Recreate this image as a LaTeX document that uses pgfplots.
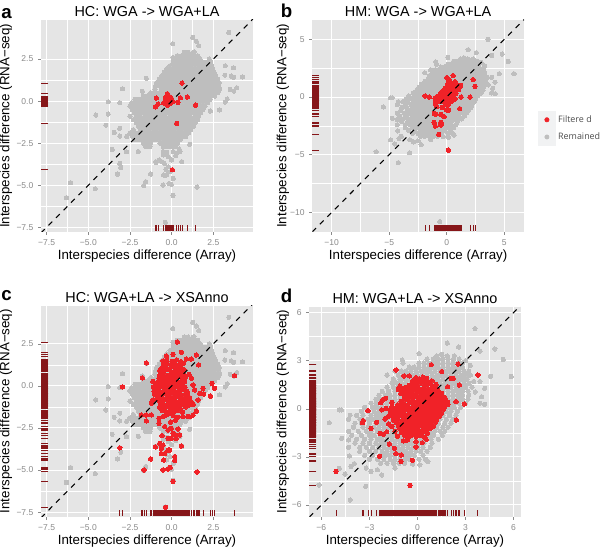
\documentclass[border=0pt]{standalone}
\usepackage{fontspec}
\setmainfont{Liberation Sans}
\newfontfamily\keyfont{Open Sans}
\usepackage{pgfplots}
\usepackage{pgfplotstable}
\pgfplotsset{compat=1.18}
\definecolor{panelbg}{HTML}{E5E5E5}
\definecolor{dotgray}{HTML}{BEBEBE}
\definecolor{dotred}{HTML}{F02228}
\definecolor{rugred}{HTML}{861619}
\definecolor{ticktext}{HTML}{8A8A8A}
\definecolor{keybg}{HTML}{F1F2F3}

% gray genes, HC panels (a, c)
\pgfplotstableread[row sep=\\]{
x y\\
3.43 4.08\\ 1.26 3.78\\ 0.06 3.41\\ 1.48 3.56\\ 1.62 3.29\\ 1.34 2.93\\ 0.78 2.89\\ 0.08 2.59\\ 3.21 2.1\\ 3.71 1.98\\ 3.19 1.54\\ 3.57 1.49\\ 3.71 1.41\\ 4.25 1.43\\ 3.51 0.69\\ 3.91 0.79\\ 3.73 0.59\\ 3.33 0.12\\ 3.21 -0.06\\ 2.87 -0.53\\ 2.32 -0.59\\
-2.95 0.73\\ -1.52 1.35\\ -1.76 0.59\\ -3.81 -0.04\\ -3.11 -0.1\\ -3.81 -0.77\\ -4.55 -0.83\\ -3.95 -1.43\\ -3.45 -1.86\\ -3.11 -1.62\\ -3.11 -2.08\\ -3.57 -2.87\\ -2.71 -3.01\\ -3.11 -3.7\\ -3.05 -3.94\\ -3.25 -4.34\\ -6.07 -4.85\\ -6.31 -5.74\\ -4.59 -5.21\\ -1.56 -4.79\\ -1.68 -5.03\\ -1.26 -4.34\\ -0.94 -3.64\\ -0.48 -4.4\\ -0.32 -4.4\\ -0.52 -4.99\\ -0.16 -4.9\\ -0.02 -4.95\\ 0.08 -5.6\\ 1.52 -5.11\\ -0.38 -7.2\\ 1.08 -2.57\\ -2.0 -3.0\\ -0.1 -4.2\\ 0.1 -4.6\\
-0.5 -3.0\\ -0.3 -3.05\\ 0.1 -3.0\\ 0.3 -3.1\\ 0.45 -2.85\\ -0.5 -3.2\\ -0.2 -3.3\\ 0.0 -3.5\\ -0.75 -3.5\\ -0.45 -3.7\\ -0.6 -3.6\\ 0.25 -3.25\\ 0.5 -3.0\\ -0.2 -3.9\\ -0.35 -4.05\\ 0.6 -3.6\\ -0.95 -3.6\\
0.75 2.9\\ 1.0 2.9\\ 1.3 2.88\\
0.35 2.7\\ 0.6 2.7\\ 0.85 2.7\\ 1.1 2.7\\ 1.35 2.7\\ 1.55 2.7\\
0.2 2.5\\ 0.45 2.5\\ 0.7 2.5\\ 0.95 2.5\\ 1.2 2.5\\ 1.45 2.5\\ 1.7 2.5\\ 2.25 2.5\\
0.1 2.3\\ 0.35 2.3\\ 0.6 2.3\\ 0.85 2.3\\ 1.1 2.3\\ 1.35 2.3\\ 1.6 2.3\\ 1.85 2.3\\ 2.1 2.3\\ 2.35 2.3\\
-0.1 2.1\\ 0.15 2.1\\ 0.4 2.1\\ 0.65 2.1\\ 0.9 2.1\\ 1.15 2.1\\ 1.4 2.1\\ 1.65 2.1\\ 1.9 2.1\\ 2.15 2.1\\ 2.4 2.1\\
-0.3 1.9\\ -0.05 1.9\\ 0.2 1.9\\ 0.45 1.9\\ 0.7 1.9\\ 0.95 1.9\\ 1.2 1.9\\ 1.45 1.9\\ 1.7 1.9\\ 1.95 1.9\\ 2.2 1.9\\ 2.45 1.9\\
-0.45 1.7\\ -0.2 1.7\\ 0.05 1.7\\ 0.3 1.7\\ 0.55 1.7\\ 0.8 1.7\\ 1.05 1.7\\ 1.3 1.7\\ 1.55 1.7\\ 1.8 1.7\\ 2.05 1.7\\ 2.3 1.7\\ 2.55 1.7\\
-0.6 1.5\\ -0.35 1.5\\ -0.1 1.5\\ 0.15 1.5\\ 0.4 1.5\\ 0.65 1.5\\ 0.9 1.5\\ 1.15 1.5\\ 1.4 1.5\\ 1.65 1.5\\ 1.9 1.5\\ 2.15 1.5\\ 2.4 1.5\\ 2.65 1.5\\
-0.75 1.3\\ -0.5 1.3\\ -0.25 1.3\\ 0.0 1.3\\ 0.25 1.3\\ 0.5 1.3\\ 0.75 1.3\\ 1.0 1.3\\ 1.25 1.3\\ 1.5 1.3\\ 1.75 1.3\\ 2.0 1.3\\ 2.25 1.3\\ 2.5 1.3\\ 2.75 1.3\\
-0.9 1.1\\ -0.62 1.1\\ -0.38 1.1\\ -0.12 1.1\\ 0.12 1.1\\ 0.38 1.1\\ 0.62 1.1\\ 0.88 1.1\\ 1.12 1.1\\ 1.38 1.1\\ 1.62 1.1\\ 1.88 1.1\\ 2.12 1.1\\ 2.38 1.1\\ 2.62 1.1\\ 2.85 1.1\\
-0.95 0.9\\ -0.72 0.9\\ -0.48 0.9\\ -0.22 0.9\\ 0.02 0.9\\ 0.28 0.9\\ 0.52 0.9\\ 0.78 0.9\\ 1.02 0.9\\ 1.28 0.9\\ 1.52 0.9\\ 1.78 0.9\\ 2.02 0.9\\ 2.28 0.9\\ 2.52 0.9\\ 2.78 0.9\\
-1.0 0.7\\ -0.6 0.7\\ -0.35 0.7\\ -0.1 0.7\\ 0.15 0.7\\ 0.4 0.7\\ 0.65 0.7\\ 0.9 0.7\\ 1.15 0.7\\ 1.4 0.7\\ 1.65 0.7\\ 1.9 0.7\\ 2.15 0.7\\ 2.4 0.7\\ 2.65 0.7\\ 2.88 0.7\\
-1.25 0.5\\ -0.95 0.5\\ -0.72 0.5\\ -0.48 0.5\\ -0.22 0.5\\ 0.02 0.5\\ 0.28 0.5\\ 0.52 0.5\\ 0.78 0.5\\ 1.02 0.5\\ 1.28 0.5\\ 1.52 0.5\\ 1.78 0.5\\ 2.02 0.5\\ 2.28 0.5\\ 2.52 0.5\\ 2.78 0.5\\
-1.7 0.3\\ -1.45 0.3\\ -1.2 0.3\\ -0.95 0.3\\ -0.7 0.3\\ -0.45 0.3\\ -0.2 0.3\\ 0.05 0.3\\ 0.3 0.3\\ 0.55 0.3\\ 0.8 0.3\\ 1.05 0.3\\ 1.3 0.3\\ 1.55 0.3\\ 1.8 0.3\\ 2.05 0.3\\ 2.3 0.3\\ 2.58 0.3\\
-2.2 0.1\\ -1.95 0.1\\ -1.7 0.1\\ -1.45 0.1\\ -1.2 0.1\\ -0.95 0.1\\ -0.7 0.1\\ -0.45 0.1\\ -0.2 0.1\\ 0.05 0.1\\ 0.3 0.1\\ 0.55 0.1\\ 0.8 0.1\\ 1.05 0.1\\ 1.3 0.1\\ 1.55 0.1\\ 1.8 0.1\\ 2.05 0.1\\ 2.3 0.1\\
-2.4 -0.1\\ -2.12 -0.1\\ -1.88 -0.1\\ -1.62 -0.1\\ -1.38 -0.1\\ -1.12 -0.1\\ -0.88 -0.1\\ -0.62 -0.1\\ -0.38 -0.1\\ -0.12 -0.1\\ 0.12 -0.1\\ 0.38 -0.1\\ 0.62 -0.1\\ 0.88 -0.1\\ 1.12 -0.1\\ 1.38 -0.1\\ 1.62 -0.1\\ 1.88 -0.1\\ 2.15 -0.1\\
-2.5 -0.3\\ -2.25 -0.3\\ -2.0 -0.3\\ -1.75 -0.3\\ -1.5 -0.3\\ -1.25 -0.3\\ -1.0 -0.3\\ -0.75 -0.3\\ -0.5 -0.3\\ -0.25 -0.3\\ 0.0 -0.3\\ 0.25 -0.3\\ 0.5 -0.3\\ 0.75 -0.3\\ 1.0 -0.3\\ 1.25 -0.3\\ 1.5 -0.3\\ 1.75 -0.3\\ 2.0 -0.3\\
-2.35 -0.5\\ -2.12 -0.5\\ -1.88 -0.5\\ -1.62 -0.5\\ -1.38 -0.5\\ -1.12 -0.5\\ -0.88 -0.5\\ -0.62 -0.5\\ -0.38 -0.5\\ -0.12 -0.5\\ 0.12 -0.5\\ 0.38 -0.5\\ 0.62 -0.5\\ 0.88 -0.5\\ 1.12 -0.5\\ 1.38 -0.5\\ 1.62 -0.5\\ 1.88 -0.5\\
-2.25 -0.7\\ -2.0 -0.7\\ -1.75 -0.7\\ -1.5 -0.7\\ -1.25 -0.7\\ -1.0 -0.7\\ -0.75 -0.7\\ -0.5 -0.7\\ -0.25 -0.7\\ 0.0 -0.7\\ 0.25 -0.7\\ 0.5 -0.7\\ 0.75 -0.7\\ 1.0 -0.7\\ 1.25 -0.7\\ 1.5 -0.7\\ 1.75 -0.7\\
-2.5 -0.9\\ -2.12 -0.9\\ -1.88 -0.9\\ -1.62 -0.9\\ -1.38 -0.9\\ -1.12 -0.9\\ -0.88 -0.9\\ -0.62 -0.9\\ -0.38 -0.9\\ -0.12 -0.9\\ 0.12 -0.9\\ 0.38 -0.9\\ 0.62 -0.9\\ 0.88 -0.9\\ 1.12 -0.9\\ 1.38 -0.9\\ 1.62 -0.9\\
-2.3 -1.1\\ -2.0 -1.1\\ -1.75 -1.1\\ -1.5 -1.1\\ -1.25 -1.1\\ -1.0 -1.1\\ -0.75 -1.1\\ -0.5 -1.1\\ -0.25 -1.1\\ 0.0 -1.1\\ 0.25 -1.1\\ 0.5 -1.1\\ 0.75 -1.1\\ 1.0 -1.1\\ 1.25 -1.1\\ 1.55 -1.1\\
-2.1 -1.3\\ -1.88 -1.3\\ -1.62 -1.3\\ -1.38 -1.3\\ -1.12 -1.3\\ -0.88 -1.3\\ -0.62 -1.3\\ -0.38 -1.3\\ -0.12 -1.3\\ 0.12 -1.3\\ 0.38 -1.3\\ 0.62 -1.3\\ 0.88 -1.3\\ 1.12 -1.3\\ 1.4 -1.3\\
-2.0 -1.5\\ -1.75 -1.5\\ -1.5 -1.5\\ -1.25 -1.5\\ -1.0 -1.5\\ -0.75 -1.5\\ -0.5 -1.5\\ -0.25 -1.5\\ 0.0 -1.5\\ 0.25 -1.5\\ 0.5 -1.5\\ 0.75 -1.5\\ 1.0 -1.5\\ 1.3 -1.5\\
-2.3 -1.7\\ -1.88 -1.7\\ -1.62 -1.7\\ -1.38 -1.7\\ -1.12 -1.7\\ -0.88 -1.7\\ -0.62 -1.7\\ -0.38 -1.7\\ -0.12 -1.7\\ 0.12 -1.7\\ 0.38 -1.7\\ 0.62 -1.7\\ 0.88 -1.7\\ 1.15 -1.7\\
-2.5 -1.9\\ -2.25 -1.9\\ -2.0 -1.9\\ -1.75 -1.9\\ -1.5 -1.9\\ -1.25 -1.9\\ -1.0 -1.9\\ -0.75 -1.9\\ -0.5 -1.9\\ -0.25 -1.9\\ 0.0 -1.9\\ 0.25 -1.9\\ 0.5 -1.9\\ 0.75 -1.9\\ 1.0 -1.9\\
-2.7 -2.1\\ -2.35 -2.1\\ -2.1 -2.1\\ -1.88 -2.1\\ -1.62 -2.1\\ -1.38 -2.1\\ -1.12 -2.1\\ -0.88 -2.1\\ -0.62 -2.1\\ -0.38 -2.1\\ -0.12 -2.1\\ 0.12 -2.1\\ 0.38 -2.1\\ 0.62 -2.1\\ 0.85 -2.1\\
-2.2 -2.3\\ -1.95 -2.3\\ -1.7 -2.3\\ -1.45 -2.3\\ -1.2 -2.3\\ -0.95 -2.3\\ -0.7 -2.3\\ -0.45 -2.3\\ -0.2 -2.3\\ 0.05 -2.3\\ 0.3 -2.3\\ 0.5 -2.3\\
-1.7 -2.5\\ -1.45 -2.5\\ -1.25 -2.5\\ -0.7 -2.5\\ -0.45 -2.5\\ -0.2 -2.5\\ 0.05 -2.5\\ 0.35 -2.5\\
-1.55 -2.7\\ -1.3 -2.7\\ -0.5 -2.7\\ -0.25 -2.7\\ 0.0 -2.7\\ 0.2 -2.7\\
}\hcgray

% gray genes, HM panels (b, d)
\pgfplotstableread[row sep=\\]{
x y\\
3.59 5.0\\ 1.86 4.1\\ 2.57 3.85\\ 4.83 3.73\\ 3.9 3.6\\ 5.35 3.08\\ 5.85 2.02\\ 4.56 2.02\\ 0.1 3.44\\ -0.95 3.04\\ -6.14 -4.75\\ -5.5 -0.87\\ -4.88 -0.07\\ -4.75 -0.07\\ -4.2 -5.69\\ -3.23 -4.84\\ -4.88 -3.71\\ -4.52 -4.07\\ -4.15 -3.6\\ -2.23 -4.13\\ -3.94 -3.42\\ -4.25 -2.94\\ -4.73 -1.84\\ -4.3 -1.95\\ -0.6 -10.8\\ 4.2 1.28\\ 4.2 0.28\\ 3.9 0.35\\ 4.0 0.75\\ 3.6 1.05\\ 3.5 1.7\\ 3.9 1.7\\ 3.3 2.7\\ 3.0 3.0\\ 2.6 3.1\\ 1.5 3.4\\ 2.3 3.3\\ 1.85 3.3\\ 1.2 3.3\\ -3.2 -3.7\\ -2.9 -3.9\\ -2.5 -3.8\\ -1.4 -3.7\\ 0.15 -3.5\\ 0.65 -3.3\\ -0.3 -3.45\\
0.6 3.1\\ 1.0 3.1\\ 1.3 3.1\\ 1.6 3.1\\ 1.9 3.1\\ 2.25 3.1\\
-0.9 2.85\\ 0.1 2.85\\ 0.4 2.85\\ 0.7 2.85\\ 1.0 2.85\\ 1.3 2.85\\ 1.6 2.85\\ 1.9 2.85\\ 2.2 2.85\\ 2.5 2.85\\ 2.8 2.85\\
-0.5 2.6\\ -0.2 2.6\\ 0.1 2.6\\ 0.4 2.6\\ 0.7 2.6\\ 1.0 2.6\\ 1.3 2.6\\ 1.6 2.6\\ 1.9 2.6\\ 2.2 2.6\\ 2.5 2.6\\ 2.8 2.6\\
-1.4 2.35\\ -1.0 2.35\\ -0.7 2.35\\ -0.4 2.35\\ -0.1 2.35\\ 0.2 2.35\\ 0.5 2.35\\ 0.8 2.35\\ 1.1 2.35\\ 1.4 2.35\\ 1.7 2.35\\ 2.0 2.35\\ 2.3 2.35\\ 2.6 2.35\\ 2.9 2.35\\ 3.2 2.35\\
-1.9 2.1\\ -1.2 2.1\\ -0.9 2.1\\ -0.6 2.1\\ -0.3 2.1\\ 0.0 2.1\\ 0.3 2.1\\ 0.6 2.1\\ 0.9 2.1\\ 1.2 2.1\\ 1.5 2.1\\ 1.8 2.1\\ 2.1 2.1\\ 2.4 2.1\\ 2.7 2.1\\ 3.0 2.1\\ 3.3 2.1\\
-1.5 1.85\\ -1.1 1.85\\ -0.8 1.85\\ -0.5 1.85\\ -0.2 1.85\\ 0.1 1.85\\ 0.4 1.85\\ 0.7 1.85\\ 1.0 1.85\\ 1.3 1.85\\ 1.6 1.85\\ 1.9 1.85\\ 2.2 1.85\\ 2.5 1.85\\ 2.8 1.85\\ 3.1 1.85\\
-1.6 1.6\\ -1.3 1.6\\ -1.0 1.6\\ -0.7 1.6\\ -0.4 1.6\\ -0.1 1.6\\ 0.2 1.6\\ 0.5 1.6\\ 0.8 1.6\\ 1.1 1.6\\ 1.4 1.6\\ 1.7 1.6\\ 2.0 1.6\\ 2.3 1.6\\ 2.6 1.6\\ 2.9 1.6\\ 3.2 1.6\\
-1.9 1.35\\ -1.5 1.35\\ -1.2 1.35\\ -0.9 1.35\\ -0.6 1.35\\ -0.3 1.35\\ 0.0 1.35\\ 0.3 1.35\\ 0.6 1.35\\ 0.9 1.35\\ 1.2 1.35\\ 1.5 1.35\\ 1.8 1.35\\ 2.1 1.35\\ 2.4 1.35\\ 2.7 1.35\\ 3.0 1.35\\ 3.4 1.35\\
-2.2 1.1\\ -1.8 1.1\\ -1.4 1.1\\ -1.1 1.1\\ -0.8 1.1\\ -0.5 1.1\\ -0.2 1.1\\ 0.1 1.1\\ 0.4 1.1\\ 0.7 1.1\\ 1.0 1.1\\ 1.3 1.1\\ 1.6 1.1\\ 1.9 1.1\\ 2.2 1.1\\ 2.5 1.1\\ 2.8 1.1\\ 3.15 1.1\\
-2.4 0.85\\ -2.0 0.85\\ -1.7 0.85\\ -1.4 0.85\\ -1.1 0.85\\ -0.8 0.85\\ -0.5 0.85\\ -0.2 0.85\\ 0.1 0.85\\ 0.4 0.85\\ 0.7 0.85\\ 1.0 0.85\\ 1.3 0.85\\ 1.6 0.85\\ 1.9 0.85\\ 2.2 0.85\\ 2.5 0.85\\ 2.8 0.85\\ 3.2 0.85\\
-2.6 0.6\\ -2.3 0.6\\ -2.0 0.6\\ -1.7 0.6\\ -1.4 0.6\\ -1.1 0.6\\ -0.8 0.6\\ -0.5 0.6\\ -0.2 0.6\\ 0.1 0.6\\ 0.4 0.6\\ 0.7 0.6\\ 1.0 0.6\\ 1.3 0.6\\ 1.6 0.6\\ 1.9 0.6\\ 2.2 0.6\\ 2.5 0.6\\ 2.8 0.6\\ 3.15 0.6\\
-2.9 0.35\\ -2.6 0.35\\ -2.2 0.35\\ -1.9 0.35\\ -1.6 0.35\\ -1.3 0.35\\ -1.0 0.35\\ -0.7 0.35\\ -0.4 0.35\\ -0.1 0.35\\ 0.2 0.35\\ 0.5 0.35\\ 0.8 0.35\\ 1.1 0.35\\ 1.4 0.35\\ 1.7 0.35\\ 2.0 0.35\\ 2.3 0.35\\ 2.6 0.35\\ 3.0 0.35\\
-3.3 0.1\\ -2.8 0.1\\ -2.5 0.1\\ -2.2 0.1\\ -1.9 0.1\\ -1.6 0.1\\ -1.3 0.1\\ -1.0 0.1\\ -0.7 0.1\\ -0.4 0.1\\ -0.1 0.1\\ 0.2 0.1\\ 0.5 0.1\\ 0.8 0.1\\ 1.1 0.1\\ 1.4 0.1\\ 1.7 0.1\\ 2.0 0.1\\ 2.3 0.1\\ 2.7 0.1\\
-3.5 -0.15\\ -3.1 -0.15\\ -2.7 -0.15\\ -2.4 -0.15\\ -2.1 -0.15\\ -1.8 -0.15\\ -1.5 -0.15\\ -1.2 -0.15\\ -0.9 -0.15\\ -0.6 -0.15\\ -0.3 -0.15\\ 0.0 -0.15\\ 0.3 -0.15\\ 0.6 -0.15\\ 0.9 -0.15\\ 1.2 -0.15\\ 1.5 -0.15\\ 1.8 -0.15\\ 2.1 -0.15\\ 2.5 -0.15\\
-4.2 -0.4\\ -3.8 -0.4\\ -3.4 -0.4\\ -2.9 -0.4\\ -2.6 -0.4\\ -2.3 -0.4\\ -2.0 -0.4\\ -1.7 -0.4\\ -1.4 -0.4\\ -1.1 -0.4\\ -0.8 -0.4\\ -0.5 -0.4\\ -0.2 -0.4\\ 0.1 -0.4\\ 0.4 -0.4\\ 0.7 -0.4\\ 1.0 -0.4\\ 1.3 -0.4\\ 1.6 -0.4\\ 2.0 -0.4\\ 2.4 -0.4\\
-4.3 -0.65\\ -3.6 -0.65\\ -3.1 -0.65\\ -2.8 -0.65\\ -2.5 -0.65\\ -2.2 -0.65\\ -1.9 -0.65\\ -1.6 -0.65\\ -1.3 -0.65\\ -1.0 -0.65\\ -0.7 -0.65\\ -0.4 -0.65\\ -0.1 -0.65\\ 0.2 -0.65\\ 0.5 -0.65\\ 0.8 -0.65\\ 1.1 -0.65\\ 1.4 -0.65\\ 1.8 -0.65\\ 2.2 -0.65\\
-3.9 -0.9\\ -3.5 -0.9\\ -3.0 -0.9\\ -2.6 -0.9\\ -2.3 -0.9\\ -2.0 -0.9\\ -1.7 -0.9\\ -1.4 -0.9\\ -1.1 -0.9\\ -0.8 -0.9\\ -0.5 -0.9\\ -0.2 -0.9\\ 0.1 -0.9\\ 0.4 -0.9\\ 0.7 -0.9\\ 1.0 -0.9\\ 1.3 -0.9\\ 1.7 -0.9\\ 2.1 -0.9\\
-4.0 -1.15\\ -3.4 -1.15\\ -3.1 -1.15\\ -2.7 -1.15\\ -2.4 -1.15\\ -2.1 -1.15\\ -1.8 -1.15\\ -1.5 -1.15\\ -1.2 -1.15\\ -0.9 -1.15\\ -0.6 -1.15\\ -0.3 -1.15\\ 0.0 -1.15\\ 0.3 -1.15\\ 0.6 -1.15\\ 0.9 -1.15\\ 1.2 -1.15\\ 1.6 -1.15\\ 1.9 -1.15\\
-4.3 -1.4\\ -3.7 -1.4\\ -3.2 -1.4\\ -2.9 -1.4\\ -2.5 -1.4\\ -2.2 -1.4\\ -1.9 -1.4\\ -1.6 -1.4\\ -1.3 -1.4\\ -1.0 -1.4\\ -0.7 -1.4\\ -0.4 -1.4\\ -0.1 -1.4\\ 0.2 -1.4\\ 0.5 -1.4\\ 0.8 -1.4\\ 1.1 -1.4\\ 1.4 -1.4\\ 1.7 -1.4\\
-4.1 -1.65\\ -3.5 -1.65\\ -3.0 -1.65\\ -2.7 -1.65\\ -2.3 -1.65\\ -2.0 -1.65\\ -1.7 -1.65\\ -1.4 -1.65\\ -1.1 -1.65\\ -0.8 -1.65\\ -0.5 -1.65\\ -0.2 -1.65\\ 0.1 -1.65\\ 0.4 -1.65\\ 0.7 -1.65\\ 1.0 -1.65\\ 1.55 -1.65\\
-3.8 -1.9\\ -3.3 -1.9\\ -2.9 -1.9\\ -2.5 -1.9\\ -2.2 -1.9\\ -1.9 -1.9\\ -1.6 -1.9\\ -1.3 -1.9\\ -1.0 -1.9\\ -0.7 -1.9\\ -0.4 -1.9\\ -0.1 -1.9\\ 0.2 -1.9\\ 0.5 -1.9\\ 0.85 -1.9\\ 1.3 -1.9\\
-3.9 -2.15\\ -3.4 -2.15\\ -3.0 -2.15\\ -2.6 -2.15\\ -2.3 -2.15\\ -2.0 -2.15\\ -1.7 -2.15\\ -1.4 -2.15\\ -1.1 -2.15\\ -0.8 -2.15\\ -0.5 -2.15\\ -0.2 -2.15\\ 0.1 -2.15\\ 0.4 -2.15\\ 0.9 -2.15\\
-4.3 -2.4\\ -3.6 -2.4\\ -3.2 -2.4\\ -2.8 -2.4\\ -2.4 -2.4\\ -2.1 -2.4\\ -1.8 -2.4\\ -1.5 -2.4\\ -1.2 -2.4\\ -0.9 -2.4\\ -0.6 -2.4\\ -0.3 -2.4\\ 0.0 -2.4\\ 0.35 -2.4\\ 0.8 -2.4\\
-3.6 -2.65\\ -3.0 -2.65\\ -2.6 -2.65\\ -2.2 -2.65\\ -1.9 -2.65\\ -1.6 -2.65\\ -1.3 -2.65\\ -1.0 -2.65\\ -0.7 -2.65\\ -0.4 -2.65\\ -0.1 -2.65\\ 0.2 -2.65\\ 0.6 -2.65\\
-3.3 -2.9\\ -2.8 -2.9\\ -2.3 -2.9\\ -2.0 -2.9\\ -1.7 -2.9\\ -1.4 -2.9\\ -1.1 -2.9\\ -0.8 -2.9\\ -0.5 -2.9\\ -0.2 -2.9\\ 0.35 -2.9\\
-3.0 -3.15\\ -2.5 -3.15\\ -2.1 -3.15\\ -1.7 -3.15\\ -1.4 -3.15\\ -1.1 -3.15\\ -0.8 -3.15\\ -0.5 -3.15\\ 0.1 -3.15\\ 0.5 -3.15\\
-2.3 -3.4\\ -1.9 -3.4\\ -1.5 -3.4\\ -1.15 -3.4\\ -0.8 -3.4\\
}\hmgray

% red genes, one table per panel
\pgfplotstableread[row sep=\\]{
x y\\
0.62 1.07\\ -0.92 0.18\\ -0.82 -0.18\\ -0.98 -0.34\\ -0.26 0.44\\ -0.38 0.16\\ -0.12 0.26\\ -0.02 0.16\\ -0.38 -0.14\\ -0.26 -0.24\\ -0.08 -0.14\\ 0.08 -0.04\\ 0.38 -0.08\\ 0.52 0.2\\ 0.94 0.24\\ 1.44 -0.24\\ 0.3 -1.33\\ 0.04 -4.08\\ -0.22 0.06\\ -0.32 0.26\\ -0.48 -0.1\\ -0.08 0.1\\
}\reda
\pgfplotstableread[row sep=\\]{
x y\\
0.55 1.86\\ 0.0 1.68\\ 2.29 1.51\\ 2.46 0.93\\ 2.03 0.0\\ 1.25 0.0\\ 1.13 -1.01\\ 0.14 -4.61\\ -0.7 -3.25\\ -1.88 0.09\\ -1.51 0.0\\ -1.07 -1.42\\ -0.96 -1.48\\ -1.1 -2.2\\ -1.0 -2.52\\ -0.52 -1.5\\ -0.23 -1.71\\ -0.52 -2.2\\ -0.52 -2.43\\ -0.43 -2.33\\ 0.0 -1.13\\ 0.17 -1.13\\ -1.0 -0.55\\ -0.87 -0.84\\ -0.4 -0.9\\ 0.0 -0.7\\
0.14 1.33\\ 0.06 1.04\\ 0.43 1.04\\ 0.72 1.33\\ 0.96 1.04\\ 0.58 0.75\\ 0.29 0.75\\ -0.14 0.75\\ 0.0 0.46\\ -0.43 0.46\\ -0.58 0.23\\ -0.87 0.03\\ -1.01 -0.12\\ -0.72 -0.17\\ -0.43 0.03\\ -0.14 0.17\\ 0.14 0.32\\ 0.43 0.46\\ 0.87 0.75\\ 0.58 0.17\\ 0.72 -0.17\\ 0.29 -0.12\\ 0.0 -0.26\\ 0.35 -0.41\\ -0.29 -0.26\\ -0.58 -0.41\\ -0.96 -0.55\\ -0.81 -0.26\\
0.22 1.5\\ 0.38 1.22\\ 0.5 1.15\\ 0.2 0.93\\ 0.34 0.86\\ 0.7 0.65\\ 0.1 0.6\\ -0.25 0.55\\ 0.55 0.55\\ -0.32 0.36\\ 0.25 0.26\\ -0.05 0.4\\ 0.4 0.1\\ 0.8 0.3\\ -0.65 0.12\\ -0.78 -0.05\\ 0.05 -0.02\\ -0.2 -0.06\\ 0.48 -0.28\\ -0.45 -0.33\\ -0.9 -0.48\\ -0.15 -0.55\\ 0.18 -0.62\\ 1.05 0.65\\ 1.15 0.88\\ 1.22 1.0\\
}\redb
\pgfplotstableread[row sep=\\]{
x y\\
0.34 2.61\\ -1.52 1.37\\ -1.76 0.48\\ -2.95 -0.06\\ 3.77 0.61\\ 2.42 0.16\\ 2.57 -0.14\\ 2.32 -0.61\\ 1.88 -0.14\\ 1.92 -0.48\\ 1.68 -0.44\\ 1.58 -0.83\\ 1.38 -0.24\\ 1.28 0.06\\ 1.04 0.69\\ 1.18 0.46\\ 1.48 1.84\\ 1.62 1.25\\ 1.18 1.6\\ 0.88 1.6\\ 0.58 2.0\\ -0.32 1.78\\ -0.52 1.49\\ 0.08 1.88\\ -3.11 -3.68\\ -1.66 -4.99\\ -1.26 -4.34\\ -0.52 -4.99\\ -0.22 -4.93\\ -0.08 -4.85\\ 0.08 -5.68\\ 1.52 -5.11\\ -0.36 -7.21\\
-1.12 0.26\\ -1.02 -0.5\\ -1.12 -0.83\\ -1.22 -1.03\\ -1.52 -1.73\\ -1.82 -1.72\\ -1.52 -2.08\\ -1.22 -1.72\\ -0.76 -1.92\\ -0.52 -1.83\\ -0.76 -2.22\\ -0.32 -1.72\\ 1.0 -1.82\\ 0.68 -1.83\\ 1.08 -1.83\\ 1.28 -1.73\\ 1.08 -0.7\\ 1.18 -0.97\\ 0.88 -0.63\\ 1.48 -1.5\\ 1.3 -1.1\\
-0.42 -2.42\\ -0.58 -2.95\\ -0.22 -2.62\\ -0.02 -2.52\\ 0.08 -2.82\\ -0.22 -3.12\\ -0.02 -3.12\\ 0.28 -3.12\\ 0.48 -2.92\\ 0.38 -2.56\\ 0.24 -2.92\\ -0.98 -3.62\\ -0.72 -3.42\\ -0.52 -3.52\\ -0.62 -3.72\\ -0.22 -3.82\\ -0.42 -4.02\\ -0.62 -4.02\\ -0.12 -3.82\\ 0.58 -3.57\\ 0.18 -4.2\\ 0.18 -4.43\\ -0.48 -4.4\\
-0.3 1.53\\ 0.02 1.46\\ 0.3 1.55\\ 0.55 1.44\\
-0.5 1.28\\ -0.26 1.34\\ -0.02 1.25\\ 0.22 1.31\\ 0.46 1.22\\ 0.72 1.35\\
-0.6 1.06\\ -0.36 1.13\\ -0.12 1.03\\ 0.12 1.16\\ 0.36 1.08\\ 0.62 1.0\\
-0.72 0.92\\ -0.48 0.85\\ -0.24 0.96\\ 0.0 0.83\\ 0.24 0.94\\ 0.48 0.87\\ 0.74 0.97\\
-0.7 0.66\\ -0.46 0.73\\ -0.22 0.63\\ 0.04 0.76\\ 0.28 0.68\\ 0.52 0.6\\ 0.68 0.71\\
-0.76 0.47\\ -0.52 0.55\\ -0.28 0.43\\ -0.04 0.52\\ 0.2 0.45\\ 0.44 0.56\\ 0.68 0.41\\ 0.82 0.51\\
-0.82 0.25\\ -0.58 0.33\\ -0.34 0.22\\ -0.1 0.36\\ 0.14 0.27\\ 0.38 0.2\\ 0.62 0.31\\ 0.78 0.24\\
-0.96 0.14\\ -0.72 0.06\\ -0.48 0.16\\ -0.24 0.03\\ 0.0 0.12\\ 0.24 0.05\\ 0.48 0.17\\ 0.7 0.02\\
-1.1 -0.06\\ -0.86 -0.14\\ -0.62 -0.04\\ -0.38 -0.16\\ -0.14 -0.08\\ 0.1 -0.13\\ 0.34 -0.02\\ 0.58 -0.15\\ 0.8 -0.09\\
-1.05 -0.33\\ -0.8 -0.25\\ -0.56 -0.36\\ -0.32 -0.27\\ -0.08 -0.37\\ 0.16 -0.26\\ 0.4 -0.34\\ 0.64 -0.23\\ 0.9 -0.31\\
-0.94 -0.46\\ -0.7 -0.54\\ -0.46 -0.44\\ -0.22 -0.56\\ 0.02 -0.47\\ 0.26 -0.55\\ 0.5 -0.43\\ 0.74 -0.53\\ 0.96 -0.45\\
-0.86 -0.72\\ -0.62 -0.65\\ -0.38 -0.76\\ -0.14 -0.67\\ 0.1 -0.74\\ 0.34 -0.64\\ 0.58 -0.73\\
-0.78 -0.87\\ -0.54 -0.95\\ -0.3 -0.84\\ -0.06 -0.93\\ 0.18 -0.86\\ 0.42 -0.96\\ 0.66 -0.85\\ 0.92 -0.92\\
-0.66 -1.07\\ -0.42 -1.14\\ -0.18 -1.04\\ 0.06 -1.16\\ 0.3 -1.06\\ 0.54 -1.13\\ 0.78 -1.05\\ 1.02 -1.15\\
-0.72 -1.26\\ -0.44 -1.35\\ -0.2 -1.24\\ 0.04 -1.33\\ 0.28 -1.27\\ 0.52 -1.36\\ 0.84 -1.25\\
-0.58 -1.46\\ -0.34 -1.55\\ -0.1 -1.44\\ 0.14 -1.53\\ 0.38 -1.47\\ 0.66 -1.56\\
-0.16 -1.65\\ 0.1 -1.76\\ 0.24 -2.04\\ -0.06 -2.15\\ 0.36 -1.86\\
}\redc
\pgfplotstableread[row sep=\\]{
x y\\
-5.08 -3.9\\ -0.47 -4.77\\ 2.53 2.79\\ 0.86 2.75\\ -1.34 2.42\\ 1.51 2.32\\ 3.77 2.11\\ -0.84 2.05\\ -0.51 2.05\\ 2.23 1.9\\ 2.09 1.9\\ 2.61 1.48\\ 1.88 1.38\\ 2.92 0.3\\ 2.4 0.44\\ 2.42 -0.7\\ -3.09 -0.12\\ -3.38 -0.74\\ -3.44 -0.87\\ -2.55 -0.84\\ -2.9 -1.22\\ -2.3 0.38\\ -2.17 0.55\\ -1.99 0.65\\ -1.96 0.03\\ -2.23 -0.07\\ -2.03 -0.64\\ -2.34 -1.53\\ -2.13 -1.59\\ -1.92 -1.43\\ -2.36 -2.96\\ -1.76 -2.2\\ -1.44 -2.47\\ -1.34 -2.8\\ -1.01 -2.88\\ -1.03 -3.28\\ -0.32 -3.21\\ -0.09 -2.38\\ -0.09 -2.05\\ -0.63 -1.95\\ -0.88 -2.0\\ -1.1 1.42\\ -1.2 1.2\\ -1.04 0.95\\ -1.6 0.4\\ -1.85 -0.5\\ -1.8 -0.95\\ -1.6 -1.1\\ -1.4 -1.4\\ -1.25 -1.72\\ 0.55 -1.9\\ 0.3 -2.12\\
-0.1 1.94\\ 0.1 1.87\\ 0.34 1.97\\ 0.58 1.9\\
-0.3 1.72\\ -0.06 1.66\\ 0.18 1.76\\ 0.42 1.69\\ 0.66 1.63\\ 0.9 1.74\\
-0.5 1.46\\ -0.26 1.54\\ -0.02 1.44\\ 0.22 1.57\\ 0.46 1.48\\ 0.7 1.55\\ 0.94 1.43\\ 1.16 1.52\\
-0.98 1.28\\ -0.74 1.34\\ -0.5 1.24\\ -0.26 1.35\\ -0.02 1.27\\ 0.22 1.22\\ 0.46 1.36\\ 0.7 1.25\\ 0.94 1.33\\ 1.18 1.26\\
-0.88 1.08\\ -0.64 1.15\\ -0.4 1.03\\ -0.16 1.12\\ 0.08 1.06\\ 0.32 1.16\\ 0.56 1.02\\ 0.8 1.13\\ 1.04 1.07\\ 1.28 1.14\\
-0.8 0.92\\ -0.56 0.85\\ -0.32 0.96\\ -0.08 0.83\\ 0.16 0.94\\ 0.4 0.87\\ 0.64 0.97\\ 0.88 0.84\\ 1.12 0.93\\ 1.36 0.88\\ 1.5 0.95\\
-0.82 0.66\\ -0.58 0.73\\ -0.34 0.63\\ -0.1 0.76\\ 0.14 0.68\\ 0.38 0.61\\ 0.62 0.74\\ 0.86 0.65\\ 1.1 0.71\\ 1.34 0.64\\ 1.58 0.75\\ 1.72 0.67\\
-1.02 0.47\\ -0.76 0.55\\ -0.52 0.43\\ -0.28 0.52\\ -0.04 0.45\\ 0.2 0.56\\ 0.44 0.41\\ 0.68 0.51\\ 0.92 0.44\\ 1.16 0.54\\ 1.4 0.46\\ 1.64 0.53\\ 1.88 0.42\\
-1.22 0.25\\ -0.98 0.33\\ -0.74 0.22\\ -0.5 0.36\\ -0.26 0.27\\ -0.02 0.2\\ 0.22 0.31\\ 0.46 0.24\\ 0.7 0.35\\ 0.94 0.21\\ 1.18 0.29\\ 1.42 0.23\\ 1.66 0.34\\ 1.9 0.26\\
-1.6 0.14\\ -1.36 0.06\\ -1.12 0.16\\ -0.88 0.03\\ -0.64 0.12\\ -0.4 0.05\\ -0.16 0.17\\ 0.08 0.02\\ 0.32 0.13\\ 0.56 0.07\\ 0.8 0.15\\ 1.04 0.04\\ 1.28 0.11\\ 1.52 0.05\\ 1.72 0.16\\
-1.72 -0.06\\ -1.48 -0.14\\ -1.24 -0.04\\ -1.0 -0.16\\ -0.76 -0.08\\ -0.52 -0.13\\ -0.28 -0.02\\ -0.04 -0.15\\ 0.2 -0.09\\ 0.44 -0.17\\ 0.68 -0.05\\ 0.92 -0.12\\ 1.16 -0.03\\ 1.4 -0.11\\ 1.6 -0.07\\
-1.7 -0.33\\ -1.46 -0.25\\ -1.22 -0.36\\ -0.98 -0.27\\ -0.74 -0.37\\ -0.5 -0.26\\ -0.26 -0.34\\ -0.02 -0.23\\ 0.22 -0.31\\ 0.46 -0.38\\ 0.7 -0.28\\ 0.94 -0.35\\ 1.18 -0.24\\ 1.48 -0.32\\
-1.58 -0.46\\ -1.34 -0.54\\ -1.1 -0.44\\ -0.86 -0.56\\ -0.62 -0.47\\ -0.38 -0.55\\ -0.14 -0.43\\ 0.1 -0.53\\ 0.34 -0.45\\ 0.58 -0.57\\ 0.82 -0.48\\ 1.06 -0.52\\ 1.36 -0.46\\
-1.5 -0.72\\ -1.26 -0.65\\ -1.02 -0.76\\ -0.78 -0.67\\ -0.54 -0.74\\ -0.3 -0.64\\ -0.06 -0.73\\ 0.18 -0.66\\ 0.42 -0.77\\ 0.66 -0.63\\ 0.9 -0.71\\ 1.2 -0.68\\
-1.3 -0.87\\ -1.06 -0.95\\ -0.82 -0.84\\ -0.58 -0.93\\ -0.34 -0.86\\ -0.1 -0.96\\ 0.14 -0.85\\ 0.38 -0.92\\ 0.62 -0.83\\ 0.86 -0.97\\ 1.1 -0.88\\
-1.18 -1.07\\ -0.94 -1.14\\ -0.7 -1.04\\ -0.46 -1.16\\ -0.22 -1.06\\ 0.02 -1.13\\ 0.26 -1.05\\ 0.5 -1.15\\ 0.74 -1.03\\ 0.98 -1.12\\
-1.08 -1.26\\ -0.84 -1.35\\ -0.6 -1.24\\ -0.36 -1.33\\ -0.12 -1.27\\ 0.12 -1.36\\ 0.36 -1.25\\ 0.6 -1.32\\ 0.8 -1.23\\
-0.98 -1.46\\ -0.74 -1.55\\ -0.5 -1.44\\ -0.26 -1.53\\ -0.02 -1.47\\ 0.22 -1.56\\ 0.46 -1.43\\ 0.62 -1.52\\
-0.8 -1.66\\ -0.56 -1.75\\ -0.32 -1.64\\ -0.08 -1.73\\ 0.16 -1.68\\ 0.4 -1.76\\
}\redd

\pgfplotsset{
  panel/.style={
    scale only axis,
    axis background/.style={fill=panelbg},
    axis line style={draw=none},
    grid=both,
    major grid style={draw=white, line width=0.75pt},
    minor grid style={draw=white, line width=0.35pt},
    minor tick num=1,
    minor tick length=0pt,
    tick align=outside,
    major tick length=2.2pt,
    tick style={draw=ticktext, line width=0.4pt},
    xtick pos=bottom, ytick pos=left,
    tick label style={font=\fontsize{6.4}{7.5}\selectfont, text=ticktext},
    every axis title/.style={at={(axis description cs:0.5,1.04)}, anchor=center, font=\fontsize{10.8}{12}\selectfont},
    xlabel={Interspecies difference (Array)},
    ylabel={Interspecies difference (RNA−seq)},
    label style={font=\fontsize{9}{11}\selectfont},
    every axis x label/.style={at={(axis description cs:0.5,-0.115)}, anchor=center},
    every axis y label/.style={at={(axis description cs:-0.165,0.5)}, anchor=center, rotate=90},
    clip mode=individual,
  },
  grayd/.style={only marks, color=dotgray, mark=*, mark size=1.6pt, mark options={draw=dotgray, fill=dotgray, line width=0pt}, forget plot},
  redd/.style={only marks, color=dotred, mark=*, mark size=1.65pt, mark options={draw=dotred, fill=dotred, line width=0pt}, forget plot},
  rugx/.style={only marks, color=rugred, mark=|, mark size=2.25pt, mark options={draw=rugred, line width=0.7pt}, forget plot},
  rugy/.style={only marks, color=rugred, mark=-, mark size=2.6pt, mark options={draw=rugred, line width=0.7pt}, forget plot},
  diag/.style={black, line width=0.8pt, dash pattern=on 4pt off 4pt, forget plot},
}

\begin{document}
\begin{tikzpicture}
\path[use as bounding box] (0,0) rectangle (450pt,411pt);

\begin{axis}[panel, at={(30.75pt,237pt)}, anchor=south west, width=159pt, height=159pt,
  title={HC: WGA -> WGA+LA},
  xmin=-7.84, xmax=4.88, ymin=-7.78, ymax=4.82,
  xtick={-7.5,-5,-2.5,0,2.5}, ytick={-7.5,-5,-2.5,0,2.5},
  xticklabels={−7.5,−5.0,−2.5,0.0,2.5}, yticklabels={−7.5,−5.0,−2.5,0.0,2.5}]
\addplot[grayd] table[x=x,y=y] {\hcgray};
\addplot[redd] table[x=x,y=y] {\reda};
\addplot[rugx] table[x=x,y expr=-7.56] {\reda};
\addplot[rugy] table[x expr=-7.62,y=y] {\reda};
\addplot[diag] coordinates {(-7.84,-7.84) (4.88,4.88)};
\end{axis}

\begin{axis}[panel, at={(234.2pt,237.2pt)}, anchor=south west, width=158.8pt, height=158.8pt,
  title={HM: WGA -> WGA+LA},
  every axis y label/.append style={at={(axis description cs:-0.138,0.5)}},
  xmin=-11.69, xmax=6.72, ymin=-11.68, ymax=6.68,
  xtick={-10,-5,0,5}, ytick={-10,-5,0,5},
  xticklabels={−10,−5,0,5}, yticklabels={−10,−5,0,5},
  legend style={at={(1.0676,0.488)}, anchor=west, draw=none, fill=none, inner sep=0pt, outer sep=0pt, row sep=0pt,
    font=\keyfont\fontsize{6.7}{8}\selectfont, text=black!70,
    /tikz/every even column/.append style={column sep=0pt}},
  legend cell align=left]
\addplot[grayd] table[x=x,y=y] {\hmgray};
\addplot[redd] table[x=x,y=y] {\redb};
\addplot[rugx] table[x=x,y expr=-11.37] {\redb};
\addplot[rugy] table[x expr=-11.4,y=y] {\redb};
\addplot[diag] coordinates {(-11.69,-11.69) (6.72,6.72)};
\addlegendimage{legend image code/.code={\fill[keybg] (0pt,-6.25pt) rectangle (12.5pt,6.25pt); \fill[dotred] (6.25pt,0pt) circle (1.65pt);}}
\addlegendentry{Filtere d}
\addlegendimage{legend image code/.code={\fill[keybg] (0pt,-6.25pt) rectangle (12.5pt,6.25pt); \fill[dotgray] (6.25pt,0pt) circle (1.6pt);}}
\addlegendentry{Remained}
\end{axis}

\begin{axis}[panel, at={(30.75pt,23.5pt)}, anchor=south west, width=159pt, height=158.25pt,
  title={HC: WGA+LA -> XSAnno},
  xmin=-7.84, xmax=4.88, ymin=-7.77, ymax=4.77,
  xtick={-7.5,-5,-2.5,0,2.5}, ytick={-7.5,-5,-2.5,0,2.5},
  xticklabels={−7.5,−5.0,−2.5,0.0,2.5}, yticklabels={−7.5,−5.0,−2.5,0.0,2.5}]
\addplot[grayd] table[x=x,y=y] {\hcgray};
\addplot[redd] table[x=x,y=y] {\redc};
\addplot[rugx] table[x=x,y expr=-7.56] {\redc};
\addplot[rugy] table[x expr=-7.62,y=y] {\redc};
\addplot[diag] coordinates {(-7.84,-7.84) (4.88,4.88)};
\end{axis}

\begin{axis}[panel, at={(232pt,23.5pt)}, anchor=south west, width=158.5pt, height=157.5pt,
  title={HM: WGA+LA -> XSAnno},
  every axis y label/.append style={at={(axis description cs:-0.125,0.5)}},
  xmin=-6.75, xmax=6.44, ymin=-6.73, ymax=6.37,
  xtick={-6,-3,0,3,6}, ytick={-6,-3,0,3,6},
  xticklabels={−6,−3,0,3,6}, yticklabels={−6,−3,0,3,6}]
\addplot[grayd] table[x=x,y=y] {\hmgray};
\addplot[redd] table[x=x,y=y] {\redd};
\addplot[rugx] table[x=x,y expr=-6.52] {\redd};
\addplot[rugy] table[x expr=-6.53,y=y] {\redd};
\addplot[diag] coordinates {(-6.75,-6.75) (6.44,6.44)};
\end{axis}

\node[font=\bfseries\fontsize{14}{16}\selectfont] at (5pt,401pt) {a};
\node[font=\bfseries\fontsize{14}{16}\selectfont] at (215pt,403pt) {b};
\node[font=\bfseries\fontsize{14}{16}\selectfont] at (5pt,189pt) {c};
\node[font=\bfseries\fontsize{14}{16}\selectfont] at (215pt,189pt) {d};
\end{tikzpicture}
\end{document}
